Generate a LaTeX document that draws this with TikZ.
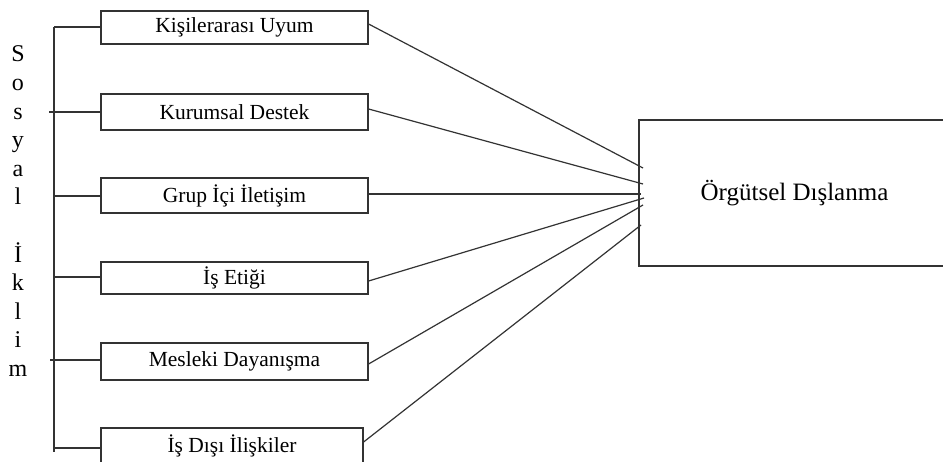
\documentclass[tikz,border=0pt]{standalone}
\usepackage{fontspec}
\setmainfont{Liberation Serif}
\begin{document}
\begin{tikzpicture}[x=1pt,y=-1pt,
  ln/.style={draw=black!80, line width=1.2pt},
  box/.style={ln, rectangle, inner sep=0pt, minimum width=267pt, font=\fontsize{21.5}{24}\selectfont},
  bigbox/.style={ln, rectangle, inner sep=0pt, minimum width=311pt, minimum height=146pt, font=\fontsize{25}{28}\selectfont},
  letter/.style={anchor=base, inner sep=0pt, font=\fontsize{24}{28}\selectfont}]
\useasboundingbox (0,0) rectangle (943,462);
\fill[white] (0,0) rectangle (943,462);
\clip (0,0) rectangle (943,462);

% boxes
\node[box, minimum height=33pt] (b1) at (234.5,27.5) {Kişilerarası Uyum};
\node[box, minimum height=36pt] (b2) at (234.5,112) {Kurumsal Destek};
\node[box, minimum height=35pt] (b3) at (234.5,195.5) {Grup İçi İletişim};
\node[box, minimum height=32pt] (b4) at (234.5,278) {İş Etiği};
\node[box, minimum height=37pt] (b5) at (234.5,361.5) {Mesleki Dayanışma};
\node[box, minimum height=36pt, minimum width=262pt] (b6) at (232,446) {İş Dışı İlişkiler};

\node[bigbox] (od) at (794.5,193) {Örgütsel Dışlanma};

% vertical label
\foreach \ch [count=\i from 0] in {S,o,s,y,a,l,{},İ,k,l,i,m}
  \node[letter] (v\i) at (18,62+28.6*\i) {\ch};

% spine and stubs
\coordinate (st) at (54,27);
\coordinate (sb) at (54,452);
\draw[ln] (st) -- (sb);
\coordinate (s1) at (54,27);
\coordinate (s2) at (49,112);
\coordinate (s3) at (53,196);
\coordinate (s4) at (53,277);
\coordinate (s5) at (50,360);
\coordinate (s6) at (53,448);
\foreach \k in {1,...,6}
  \draw[ln] (s\k) -- (s\k -| b\k.west);

% connectors
\coordinate (e1) at (643,168);
\coordinate (e2) at (643,184);
\coordinate (e3) at (641,194);
\coordinate (e4) at (644,198);
\coordinate (e5) at (643,205);
\coordinate (e6) at (641,225);
\draw[ln] ([yshift=3.5pt]b1.east) -- (e1);
\draw[ln] ([yshift=3pt]b2.east) -- (e2);
\draw[ln] ([yshift=1.5pt]b3.east) -- (e3);
\draw[ln] ([yshift=-3pt]b4.east) -- (e4);
\draw[ln] ([yshift=-2.5pt]b5.east) -- (e5);
\draw[ln] ([yshift=4pt]b6.east) -- (e6);
\end{tikzpicture}
\end{document}
